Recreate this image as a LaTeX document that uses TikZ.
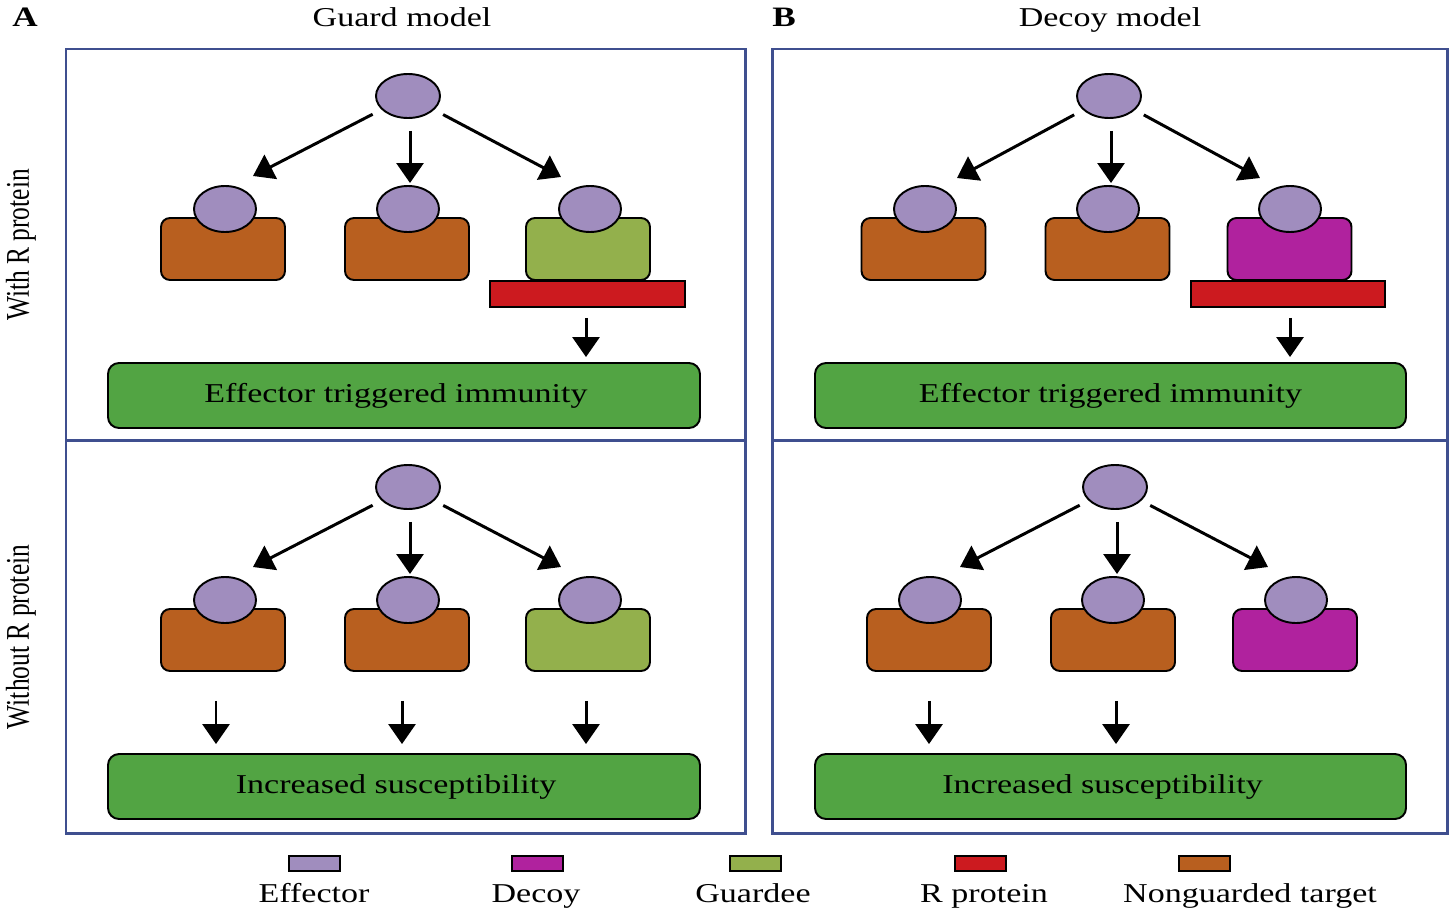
\documentclass[tikz,border=0pt]{standalone}
\usepackage{fontspec}
\setmainfont{Liberation Serif}
\newfontfamily\wide[FakeStretch=1.25]{Liberation Serif}
\usetikzlibrary{shapes.geometric,arrows.meta}
\definecolor{effc}{HTML}{A08DBE}
\definecolor{orangec}{HTML}{B85F1F}
\definecolor{guardc}{HTML}{93B04C}
\definecolor{decoyc}{HTML}{B0229E}
\definecolor{redc}{HTML}{CC1A1F}
\definecolor{greenc}{HTML}{52A443}
\definecolor{framec}{HTML}{3F4F8F}
\def\u{0.02cm}
\tikzset{
  frame/.style={draw=framec, line width=1.7pt},
  eff/.style={ellipse, draw=black, line width=1.1pt, fill=effc, minimum width=64*\u, minimum height=44*\u, inner sep=0pt},
  seff/.style={ellipse, draw=black, line width=1.1pt, fill=effc, minimum width=62*\u, minimum height=46*\u, inner sep=0pt},
  targ/.style={rectangle, draw=black, line width=1.1pt, rounded corners=9*\u, minimum width=124*\u, minimum height=62*\u, inner sep=0pt},
  rbar/.style={rectangle, draw=black, line width=0.9pt, fill=redc, minimum width=195*\u, minimum height=26*\u, inner sep=0pt},
  resbox/.style={rectangle, draw=black, line width=1.1pt, fill=greenc, rounded corners=11*\u, minimum width=592*\u, minimum height=65*\u, inner sep=0pt, font=\wide\fontsize{15.5}{18}\selectfont},
  arr/.style={line width=1.7pt, -{Triangle[length=0.4cm,width=0.54cm]}},
  swatch/.style={rectangle, draw=black, line width=0.9pt, minimum width=51*\u, minimum height=15*\u, inner sep=0pt},
  lab/.style={font=\wide\fontsize{15.5}{18}\selectfont, inner sep=0pt, anchor=base},
}
\newcommand{\txtleft}[1]{#1\kern0.32cm}
\begin{document}
\begin{tikzpicture}[x=0.02cm, y=-0.02cm]
\useasboundingbox[fill=white] (0,0) rectangle (1449,916);

% headings
\node[font=\bfseries\wide\fontsize{16}{18}\selectfont, inner sep=0pt, anchor=base] (lA) at (25,27) {A};
\node[font=\bfseries\wide\fontsize{16}{18}\selectfont, inner sep=0pt, anchor=base] (lB) at (784,27) {B};
\node[lab] (tGuard) at (402,27) {Guard model};
\node[lab] (tDecoy) at (1110,27) {Decoy model};
\node[rotate=90, inner sep=0pt, font=\fontsize{14.5}{16}\selectfont] (sWith) at (21,245) {\scalebox{1}[1.3]{With R protein}};
\node[rotate=90, inner sep=0pt, font=\fontsize{14.5}{16}\selectfont] (sWithout) at (21,637) {\scalebox{1}[1.3]{Without R protein}};

% frames
\draw[frame] (66,49) rectangle (745,833);
\draw[frame] (66,440) -- (745,440);
\draw[frame] (772,49) rectangle (1447,833);
\draw[frame] (772,440) -- (1447,440);

% ===== Panel A top =====
\node[eff] (eA) at (408,96) {};
\node[targ, fill=orangec] (tA1) at (223,249) {};
\node[targ, fill=orangec] (tA2) at (407,249) {};
\node[targ, fill=guardc] (tA3) at (588,249) {};
\node[seff] (sA1) at (225,209) {};
\node[seff] (sA2) at (408,209) {};
\node[seff] (sA3) at (590,209) {};
\node[rbar] (rA) at (587.5,294) {};
\node[resbox] (bA) at (404,395.5) {\txtleft{Effector triggered immunity}};
\coordinate (aA1) at (253,176);
\coordinate (aA2) at (410,183);
\coordinate (aA3) at (561,177);
\draw[arr, shorten <=0.2cm] (eA) -- (aA1);
\draw[arr, shorten <=0.24cm] (eA.south -| aA2) -- (aA2);
\draw[arr, shorten <=0.2cm] (eA) -- (aA3);
\draw[arr, shorten <=0.2cm, shorten >=0.1cm] (rA.south -| 586,0) -- (bA.north -| 586,0);

% ===== Panel A bottom =====
\node[eff] (eC) at (408,487) {};
\node[targ, fill=orangec] (tC1) at (223,640) {};
\node[targ, fill=orangec] (tC2) at (407,640) {};
\node[targ, fill=guardc] (tC3) at (588,640) {};
\node[seff] (sC1) at (225,600) {};
\node[seff] (sC2) at (408,600) {};
\node[seff] (sC3) at (590,600) {};
\node[resbox] (bC) at (404,786.5) {\txtleft{Increased susceptibility}};
\coordinate (aC1) at (253,567);
\coordinate (aC2) at (410,574);
\coordinate (aC3) at (561,567);
\draw[arr, shorten <=0.2cm] (eC) -- (aC1);
\draw[arr, shorten <=0.24cm] (eC.south -| aC2) -- (aC2);
\draw[arr, shorten <=0.2cm] (eC) -- (aC3);
\draw[arr, shorten <=0.58cm, shorten >=0.18cm] (tC1.south -| 216,0) -- (bC.north -| 216,0);
\draw[arr, shorten <=0.58cm, shorten >=0.18cm] (tC2.south -| 402,0) -- (bC.north -| 402,0);
\draw[arr, shorten <=0.58cm, shorten >=0.18cm] (tC3.south -| 586,0) -- (bC.north -| 586,0);

% ===== Panel B top =====
\node[eff] (eB) at (1109,96) {};
\node[targ, fill=orangec] (tB1) at (923.5,249) {};
\node[targ, fill=orangec] (tB2) at (1107.5,249) {};
\node[targ, fill=decoyc] (tB3) at (1289.5,249) {};
\node[seff] (sB1) at (925,209) {};
\node[seff] (sB2) at (1108,209) {};
\node[seff] (sB3) at (1290,209) {};
\node[rbar, minimum width=194*\u] (rB) at (1288,294) {};
\node[resbox, minimum width=591*\u] (bB) at (1110.5,395.5) {Effector triggered immunity};
\coordinate (aB1) at (957,178);
\coordinate (aB2) at (1111,183);
\coordinate (aB3) at (1260,178);
\draw[arr, shorten <=0.2cm] (eB) -- (aB1);
\draw[arr, shorten <=0.24cm] (eB.south -| aB2) -- (aB2);
\draw[arr, shorten <=0.2cm] (eB) -- (aB3);
\draw[arr, shorten <=0.2cm, shorten >=0.1cm] (rB.south -| 1290,0) -- (bB.north -| 1290,0);

% ===== Panel B bottom =====
\node[eff] (eD) at (1115,487) {};
\node[targ, fill=orangec] (tD1) at (929,640) {};
\node[targ, fill=orangec] (tD2) at (1113,640) {};
\node[targ, fill=decoyc] (tD3) at (1295,640) {};
\node[seff] (sD1) at (930,600) {};
\node[seff] (sD2) at (1113,600) {};
\node[seff] (sD3) at (1296,600) {};
\node[resbox, minimum width=591*\u] (bD) at (1110.5,786.5) {\txtleft{Increased susceptibility}};
\coordinate (aD1) at (960,567);
\coordinate (aD2) at (1117,574);
\coordinate (aD3) at (1268,567);
\draw[arr, shorten <=0.2cm] (eD) -- (aD1);
\draw[arr, shorten <=0.24cm] (eD.south -| aD2) -- (aD2);
\draw[arr, shorten <=0.2cm] (eD) -- (aD3);
\draw[arr, shorten <=0.58cm, shorten >=0.18cm] (tD1.south -| 929,0) -- (bD.north -| 929,0);
\draw[arr, shorten <=0.58cm, shorten >=0.18cm] (tD2.south -| 1116,0) -- (bD.north -| 1116,0);

% ===== Legend =====
\node[swatch, fill=effc] (kEff) at (314.5,863.5) {};
\node[swatch, fill=decoyc] (kDec) at (537.5,863.5) {};
\node[swatch, fill=guardc] (kGua) at (755.5,863.5) {};
\node[swatch, fill=redc] (kRed) at (980.5,863.5) {};
\node[swatch, fill=orangec] (kNon) at (1204.5,863.5) {};
\node[lab] (nEff) at (314,902) {Effector};
\node[lab] (nDec) at (536,902) {Decoy};
\node[lab] (nGua) at (753,902) {Guardee};
\node[lab] (nRed) at (984,902) {R protein};
\node[lab] (nNon) at (1250,902) {Nonguarded target};
\end{tikzpicture}
\end{document}
